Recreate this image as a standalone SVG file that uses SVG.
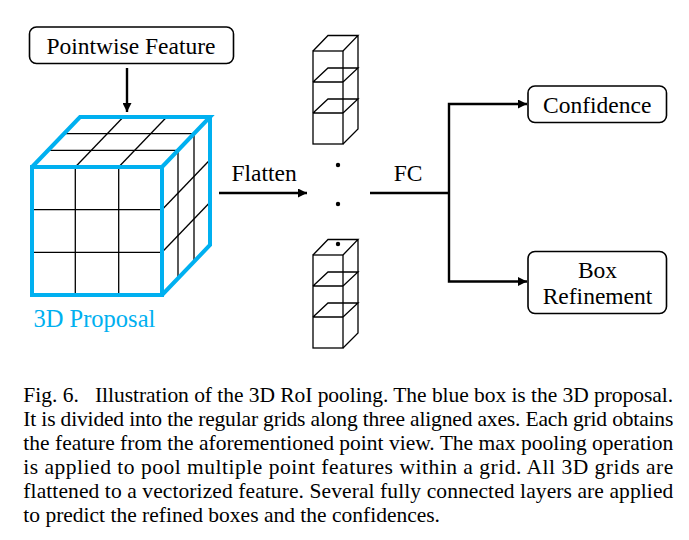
<svg xmlns="http://www.w3.org/2000/svg" width="689" height="540" viewBox="0 0 689 540">
<defs>
<style>
.lbl{font-family:'Liberation Serif','Times New Roman',serif;font-size:23.5px;fill:#000}
.cap{font-family:'Liberation Serif','Times New Roman',serif;font-size:21.5px;fill:#000}
.box{fill:#fff;stroke:#000;stroke-width:1.6}
.grid{stroke:#000;stroke-width:1.3;fill:none}
.blue{stroke:#00B0F0;stroke-width:4;fill:none;stroke-linejoin:miter}
.col{stroke:#000;stroke-width:1.3;fill:none;stroke-linejoin:miter}
.conn{stroke:#000;stroke-width:2.4;fill:none}
</style>
<marker id="ah" viewBox="0 0 10 10" refX="10" refY="5" markerWidth="11" markerHeight="9" markerUnits="userSpaceOnUse" orient="auto">
<path d="M0,0 L10,5 L0,10 z" fill="#000"/>
</marker>
</defs>
<rect width="689" height="540" fill="#fff"/>

<g id="pointwise-feature">
<rect class="box" x="29.5" y="27" width="204" height="36.5" rx="7"/>
<text class="lbl" x="131" y="53.5" text-anchor="middle">Pointwise Feature</text>
</g>

<g id="proposal-cube">
<g class="grid">
<line x1="75.3" y1="167" x2="75.3" y2="295"/>
<line x1="118.7" y1="167" x2="118.7" y2="295"/>
<line x1="32" y1="209.7" x2="162" y2="209.7"/>
<line x1="32" y1="252.3" x2="162" y2="252.3"/>
<line x1="75.3" y1="167" x2="123.3" y2="117"/>
<line x1="118.7" y1="167" x2="166.7" y2="117"/>
<line x1="48" y1="150.3" x2="178" y2="150.3"/>
<line x1="64" y1="133.7" x2="194" y2="133.7"/>
<line x1="178" y1="150.3" x2="178" y2="278.3"/>
<line x1="194" y1="133.7" x2="194" y2="261.7"/>
<line x1="162" y1="209.7" x2="210" y2="159.7"/>
<line x1="162" y1="252.3" x2="210" y2="202.3"/>
</g>
<path class="blue" d="M32,167 L162,167 L162,295 L32,295 Z M32,167 L80,117 L210,117 L162,167 M210,117 L210,245 L162,295"/>
<text class="lbl" x="33.5" y="326.5" style="font-size:24.5px;fill:#00B0F0">3D Proposal</text>
</g>

<g id="column-top" class="col">
<rect x="313" y="51" width="30" height="93"/>
<path d="M313,51 L328,35.5 L358,35.5 L343,51 M358,35.5 L358,129 L343,144"/>
<path d="M313,82 L343,82 M313,82 L328,68 L358,68 L343,82"/>
<path d="M313,113 L343,113 M313,113 L328,99 L358,99 L343,113"/>
</g>

<g id="column-bottom" class="col">
<rect x="313" y="255" width="30" height="93"/>
<path d="M313,255 L328,239.5 L358,239.5 L343,255 M358,239.5 L358,333 L343,348"/>
<path d="M313,286 L343,286 M313,286 L328,272 L358,272 L343,286"/>
<path d="M313,317 L343,317 M313,317 L328,303 L358,303 L343,317"/>
</g>

<g id="dots" fill="#000">
<circle cx="338" cy="165" r="2.2"/>
<circle cx="338" cy="204" r="2.2"/>
<circle cx="338" cy="244" r="2.2"/>
</g>

<g id="confidence">
<rect class="box" x="528" y="86" width="138.5" height="36.5" rx="7"/>
<text class="lbl" x="597.2" y="112.5" text-anchor="middle">Confidence</text>
</g>

<g id="box-refinement">
<rect class="box" x="528" y="251.5" width="138.5" height="62" rx="7"/>
<text class="lbl" x="597.5" y="278" text-anchor="middle">Box</text>
<text class="lbl" x="597.5" y="303.5" text-anchor="middle">Refinement</text>
</g>

<g id="connectors">
<line class="conn" x1="127" y1="68" x2="127" y2="112" marker-end="url(#ah)"/>
<line class="conn" x1="219" y1="193" x2="307" y2="193" marker-end="url(#ah)"/>
<text class="lbl" x="231.5" y="181">Flatten</text>
<polyline class="conn" points="370,193 449,193"/>
<polyline class="conn" points="449,193 449,104 527,104" marker-end="url(#ah)"/>
<polyline class="conn" points="449,193 449,281.5 527,281.5" marker-end="url(#ah)"/>
<text class="lbl" x="408" y="181" text-anchor="middle">FC</text>
</g>

<g id="caption" class="cap">
<text x="23.3" y="402">Fig. 6.</text>
<text x="95" y="402" textLength="578" lengthAdjust="spacing">Illustration of the 3D RoI pooling. The blue box is the 3D proposal.</text>
<text x="23.3" y="426" textLength="650" lengthAdjust="spacing">It is divided into the regular grids along three aligned axes. Each grid obtains</text>
<text x="23.3" y="450" textLength="650" lengthAdjust="spacing">the feature from the aforementioned point view. The max pooling operation</text>
<text x="23.3" y="474" textLength="650" lengthAdjust="spacing">is applied to pool multiple point features within a grid. All 3D grids are</text>
<text x="23.3" y="498" textLength="650" lengthAdjust="spacing">flattened to a vectorized feature. Several fully connected layers are applied</text>
<text x="23.3" y="522">to predict the refined boxes and the confidences.</text>
</g>
</svg>
